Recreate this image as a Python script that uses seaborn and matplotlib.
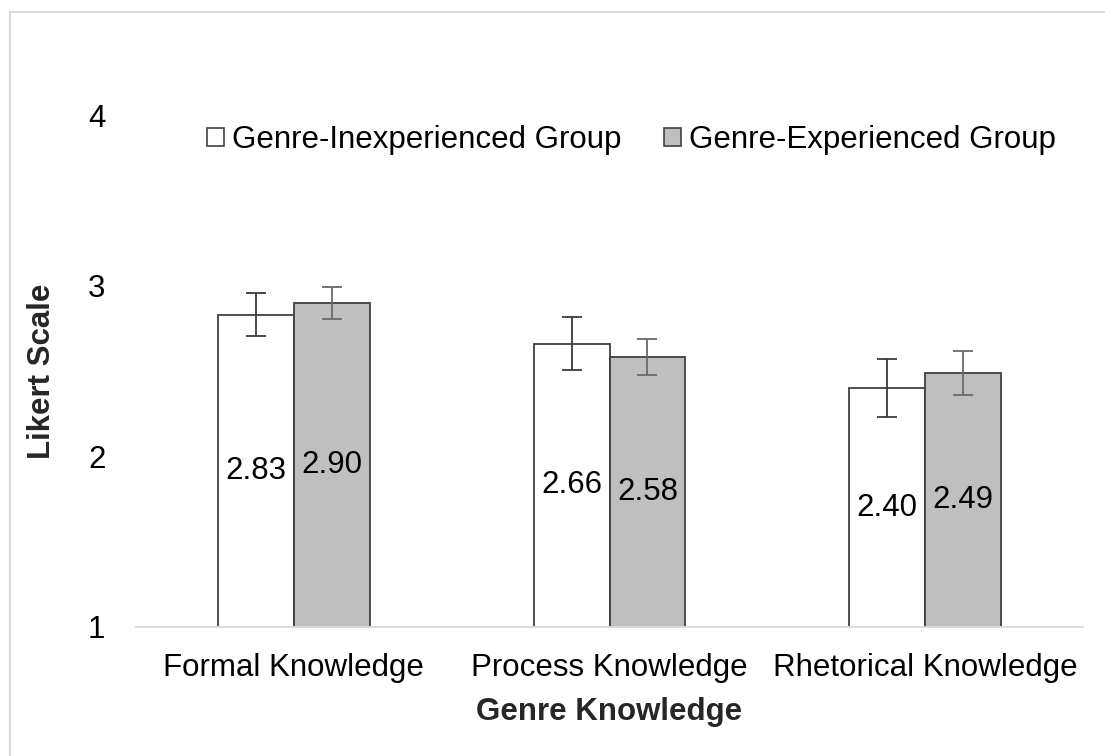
import matplotlib
matplotlib.use("Agg")
import matplotlib.pyplot as plt
from matplotlib.patches import Rectangle, Patch
import seaborn as sns
import pandas as pd

categories = ["Formal Knowledge", "Process Knowledge", "Rhetorical Knowledge"]
groups = ["Genre-Inexperienced Group", "Genre-Experienced Group"]
inexperienced = [2.83, 2.66, 2.40]
experienced = [2.90, 2.58, 2.49]
inexperienced_err = [0.125, 0.155, 0.17]
experienced_err = [0.095, 0.105, 0.13]
y_ticks = [1, 2, 3, 4]

df = pd.DataFrame({
    "category": categories * 2,
    "group": [groups[0]] * 3 + [groups[1]] * 3,
    "value": inexperienced + experienced,
    "err": inexperienced_err + experienced_err,
})

sns.set_theme(style="white")
plt.rcParams["font.family"] = ["Liberation Sans", "DejaVu Sans"]

fig = plt.figure(figsize=(11.05, 7.56), dpi=100)
ax = fig.add_axes([136 / 1105, 1 - 627 / 756, (1083 - 136) / 1105, (627 - 115) / 756])

fills = {groups[0]: "#ffffff", groups[1]: "#bfbfbf"}
sns.barplot(data=df, x="category", y="value", hue="group", order=categories,
            hue_order=groups, palette=fills, width=0.48, errorbar=None,
            edgecolor="#404040", linewidth=1.3, legend=False, ax=ax)

err_colors = {groups[0]: "#3a3a3a", groups[1]: "#6a6a6a"}
for container, g in zip(ax.containers, groups):
    sub = df[df["group"] == g].set_index("category").loc[categories]
    for bar, v, e in zip(container.patches, sub["value"], sub["err"]):
        cx = bar.get_x() + bar.get_width() / 2
        ax.errorbar(cx, v, yerr=e, color=err_colors[g], capsize=7,
                    capthick=1.3, elinewidth=1.3, fmt="none", zorder=4)
        ax.text(cx, (1 + v) / 2, f"{v:.2f}", ha="center", va="center",
                fontsize=22.5, color="#000000", zorder=5)

ax.set_ylim(1, 4)
ax.set_xlim(-0.5, 2.5)
ax.set_yticks(y_ticks)
ax.set_yticklabels([str(t) for t in y_ticks], fontsize=22.5)
ax.tick_params(axis="both", length=0, colors="#000000", labelsize=22.5)
ax.tick_params(axis="y", pad=22)
ax.tick_params(axis="x", pad=19)
for s in ["top", "right", "left"]:
    ax.spines[s].set_visible(False)
ax.spines["bottom"].set_color("#d9d9d9")
ax.spines["bottom"].set_linewidth(1.3)

ax.set_xlabel("Genre Knowledge", fontsize=22.5, fontweight="bold", labelpad=10)
ax.set_ylabel("Likert Scale", fontsize=22.5, fontweight="bold")
ax.yaxis.set_label_coords(-0.083, 0.5)

handles = [Patch(facecolor=fills[g], edgecolor="#404040", linewidth=1.2, label=g)
           for g in groups]
leg = ax.legend(handles=handles, loc="center", bbox_to_anchor=(0.523, 1 - 25 / 512),
                ncol=2, frameon=False, fontsize=22.5, handlelength=0.55,
                handleheight=0.55, handletextpad=0.25, columnspacing=1.35)
for t in leg.get_texts():
    t.set_color("#000000")

# light chart-area frame
fig.patches.append(Rectangle((10 / 1105, -0.1), 1.2, (756 - 12) / 756 + 0.1,
                             transform=fig.transFigure, fill=False,
                             edgecolor="#d9d9d9", linewidth=1.5))

fig.savefig("out.png", dpi=100)
